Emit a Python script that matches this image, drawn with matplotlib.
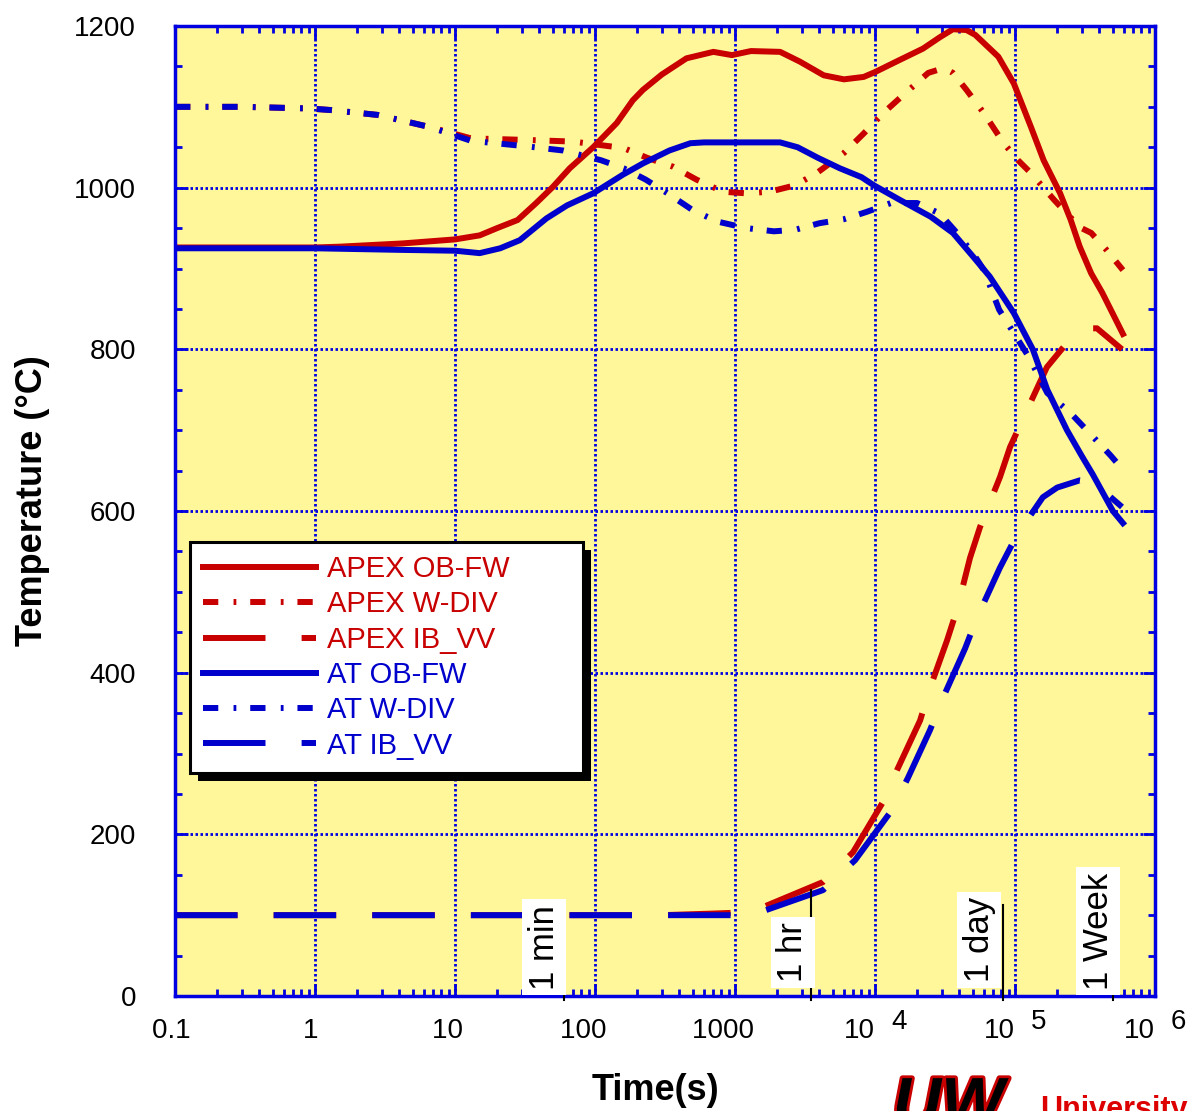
import matplotlib
matplotlib.use('Agg')
import matplotlib.pyplot as plt
from matplotlib.ticker import FixedLocator, FixedFormatter, LogLocator, MultipleLocator, NullFormatter
from matplotlib.patches import Rectangle
import matplotlib.patheffects as pe

plt.rcParams['font.family'] = ['Liberation Sans', 'DejaVu Sans']
plt.rcParams['lines.scale_dashes'] = False

RED = '#c80000'
BLUE = '#0000cc'
AXBLUE = '#0000e0'

# APEX curves (time in s, temperature in C)
apex_obfw_t = [0.1, 1.0, 1.5, 4.2, 10, 15, 20, 28, 38, 50, 66, 97, 143, 186, 220, 300, 450,
               700, 950, 1300, 2100, 2900, 4300, 6000, 8300, 10000, 15000, 22000, 29000,
               36000, 45000, 52000, 76000, 98000, 130000, 160000, 210000, 250000, 290000,
               350000, 420000, 590000]
apex_obfw_T = [926, 926, 927, 931, 936, 941, 950, 960, 981, 1001, 1024, 1050, 1080, 1108, 1121,
               1140, 1160, 1168, 1164, 1169, 1168, 1156, 1139, 1134, 1137, 1143, 1158, 1172,
               1186, 1196, 1195, 1189, 1162, 1129, 1075, 1034, 993, 960, 927, 894, 870, 819]

apex_wdiv_t = [0.1, 0.3, 0.9, 1.3, 2.8, 6.6, 13, 33, 70, 160, 235, 360, 530, 820, 1200, 1770,
               2700, 3900, 6000, 8300, 11400, 16000, 24000, 31000, 36000, 45000, 60000, 83000,
               105000, 130000, 190000, 290000, 350000, 450000, 590000]
apex_wdiv_T = [1100, 1100, 1098, 1096, 1090, 1075, 1061, 1059, 1057, 1049, 1037, 1026, 1010,
               995, 993, 995, 1003, 1019, 1043, 1067, 1092, 1115, 1142, 1148, 1142, 1121, 1092,
               1055, 1034, 1018, 985, 951, 944, 923, 898]

apex_ibvv_t = [0.1, 300, 700, 1000, 1585, 4250, 6970, 11400, 14400, 21000, 24700, 32700,
               38500, 47700, 56200, 78100, 92100, 134500, 169000, 235000, 343000, 385000, 581000]
apex_ibvv_T = [100, 100, 102, 103, 110, 141, 178, 240, 280, 341, 381, 440, 478, 542, 580, 642,
               679, 741, 778, 808, 826, 826, 800]

# AT curves
at_obfw_t = [0.1, 1.0, 4.2, 10, 15, 21, 29, 45, 63, 97, 158, 220, 340, 480, 600, 2100, 2800,
             3900, 5600, 8000, 9800, 15000, 25000, 36000, 50000, 66000, 98000, 134000, 170000,
             235000, 300000, 360000, 500000, 590000]
at_obfw_T = [925, 925, 923, 922, 919, 925, 935, 962, 978, 993, 1016, 1030, 1046, 1055, 1056,
             1056, 1050, 1037, 1024, 1013, 1003, 985, 964, 944, 915, 890, 845, 800, 750, 700,
             668, 645, 600, 585]

at_wdiv_t = [0.1, 0.3, 0.9, 1.3, 2.8, 6.6, 13, 33, 59, 110, 160, 230, 330, 500, 750, 1200, 1900,
             2700, 4000, 6000, 8700, 13000, 20000, 29000, 38000, 50000, 60000, 77000, 125000,
             170000, 250000, 360000, 480000, 590000]
at_wdiv_T = [1100, 1100, 1098, 1096, 1090, 1075, 1058, 1051, 1046, 1034, 1024, 1010, 993, 972,
             958, 950, 946, 948, 956, 961, 970, 981, 981, 968, 945, 919, 898, 849, 791, 746,
             721, 692, 669, 651]

at_ibvv_t = [0.1, 1000, 1585, 4250, 7200, 13200, 17200, 24700, 30600, 44000, 53500, 78100,
             103000, 158000, 200000, 291000, 361000, 581000]
at_ibvv_T = [100, 100, 105, 131, 168, 230, 270, 329, 369, 430, 468, 530, 570, 617, 629, 638,
             636, 605]

# x axis ticks
x_ticks = [0.1, 1, 10, 100, 1000, 1e4, 1e5, 1e6]
x_tick_labels = ['0.1 ', '1 ', '10  ', '100   ', '1000   ', '10', '10', '10']
x_exponents = ['4', '5', '6']

# time markers: label, line position, label right edge, line top, label bottom
mark_labels = ['1 min', '1 hr', '1 day', '1 Week']
mark_line_t = [60, 3500, 82000, 500000]
mark_text_t = [57, 3400, 73000, 515000]
mark_line_top = [113, 131, 113, 100]
mark_text_bottom = [8, 17, 17, 8]

fig = plt.figure(figsize=(11.9, 11.11), dpi=100)
ax = fig.add_axes([0.1471, 0.1035, 0.8235, 0.8731])
ax.set_facecolor('#fff799')
ax.set_xscale('log')
ax.set_xlim(0.1, 1e6)
ax.set_ylim(0, 1200)
ax.set_axisbelow(True)

lw = 4.3
wdiv_dash = (11, 11, 2, 10)
ibvv_dash = (45, 26)

ax.plot(apex_obfw_t, apex_obfw_T, color=RED, lw=lw, label='APEX OB-FW')
ax.plot(apex_wdiv_t, apex_wdiv_T, color=RED, lw=lw, dashes=wdiv_dash, label='APEX W-DIV')
ax.plot(apex_ibvv_t, apex_ibvv_T, color=RED, lw=lw, dashes=ibvv_dash, label='APEX IB_VV')
ax.plot(at_obfw_t, at_obfw_T, color=BLUE, lw=lw, label='AT OB-FW')
ax.plot(at_wdiv_t, at_wdiv_T, color=BLUE, lw=lw, dashes=wdiv_dash, label='AT W-DIV')
ax.plot(at_ibvv_t, at_ibvv_T, color=BLUE, lw=lw, dashes=ibvv_dash, label='AT IB_VV')

# axes styling
for s in ax.spines.values():
    s.set_color(AXBLUE)
    s.set_linewidth(2.5)

ax.xaxis.set_major_locator(FixedLocator(x_ticks))
ax.xaxis.set_major_formatter(FixedFormatter(x_tick_labels))
ax.xaxis.set_minor_locator(LogLocator(base=10, subs=range(2, 10), numticks=20))
ax.xaxis.set_minor_formatter(NullFormatter())
ax.yaxis.set_major_locator(MultipleLocator(200))
ax.yaxis.set_minor_locator(MultipleLocator(50))

ax.tick_params(which='both', direction='in', top=True, right=True, color=AXBLUE, width=2)
ax.tick_params(which='major', length=9)
ax.tick_params(which='minor', length=5)
ax.tick_params(axis='x', labelsize=20, pad=16)
ax.tick_params(axis='y', labelsize=20, pad=28)

ax.grid(True, which='major', color=AXBLUE, linestyle=(0, (1.8, 1.8)), linewidth=2)

# "10" labels sit left of their tick, exponent to the right
fig.canvas.draw()
for lab in ax.get_xticklabels()[-3:]:
    lab.set_horizontalalignment('right')

for e, t in zip(x_exponents, x_ticks[-3:]):
    ax.annotate(e, xy=(t, 0), xycoords=('data', 'axes fraction'), xytext=(17, -18.7),
                textcoords='offset points', ha='center', va='center', fontsize=20,
                annotation_clip=False)

ax.set_xlabel('Time(s)', fontsize=26, fontweight='bold')
ax.xaxis.set_label_coords(0.49, -0.0794)
ax.set_ylabel('Temperature (°C)', fontsize=26, fontweight='bold')
ax.yaxis.set_label_coords(-0.1276, 0.511)

# time markers
for lab, tl, tt, top, bot in zip(mark_labels, mark_line_t, mark_text_t, mark_line_top, mark_text_bottom):
    ax.plot([tl, tl], [-5, top], color='black', lw=1.5, clip_on=False, zorder=6)
    ax.text(tt, bot, lab, rotation=90, ha='right', va='bottom', fontsize=25,
            bbox=dict(facecolor='white', edgecolor='none', pad=4), zorder=7)

# legend with hard black shadow
leg = ax.legend(loc='upper left', bbox_to_anchor=(0.0153, 0.230, 0.401, 0.238), mode='expand',
                fontsize=21, handlelength=3.87, handletextpad=0.38, borderpad=0.45,
                labelspacing=0.25, fancybox=False, framealpha=1, edgecolor='black',
                borderaxespad=0)
leg.get_frame().set_linewidth(2.2)
leg.set_zorder(10)
for text, line in zip(leg.get_texts(), leg.get_lines()):
    text.set_color(line.get_color())

fig.canvas.draw()
bb = leg.get_window_extent()
(x0, y0), (x1, y1) = ax.transAxes.inverted().transform([[bb.x0 + 8, bb.y0 - 8], [bb.x1 + 8, bb.y1 - 8]])
ax.add_patch(Rectangle((x0, y0), x1 - x0, y1 - y0, transform=ax.transAxes, facecolor='black',
                       edgecolor='none', clip_on=False, zorder=9.9))

# logo at bottom right (cut off by the page edge, as in the source)
fig.text(893 / 1190, 1 - 1076 / 1111, 'UW', fontsize=48, fontweight='bold', fontstyle='italic',
         color='black', va='top', ha='left',
         path_effects=[pe.withStroke(linewidth=4, foreground=RED)])
fig.text(1040 / 1190, 1 - 1095 / 1111, 'University', fontsize=22, fontweight='bold',
         color='#dd0000', va='top', ha='left')

fig.savefig('out.png', dpi=100)
